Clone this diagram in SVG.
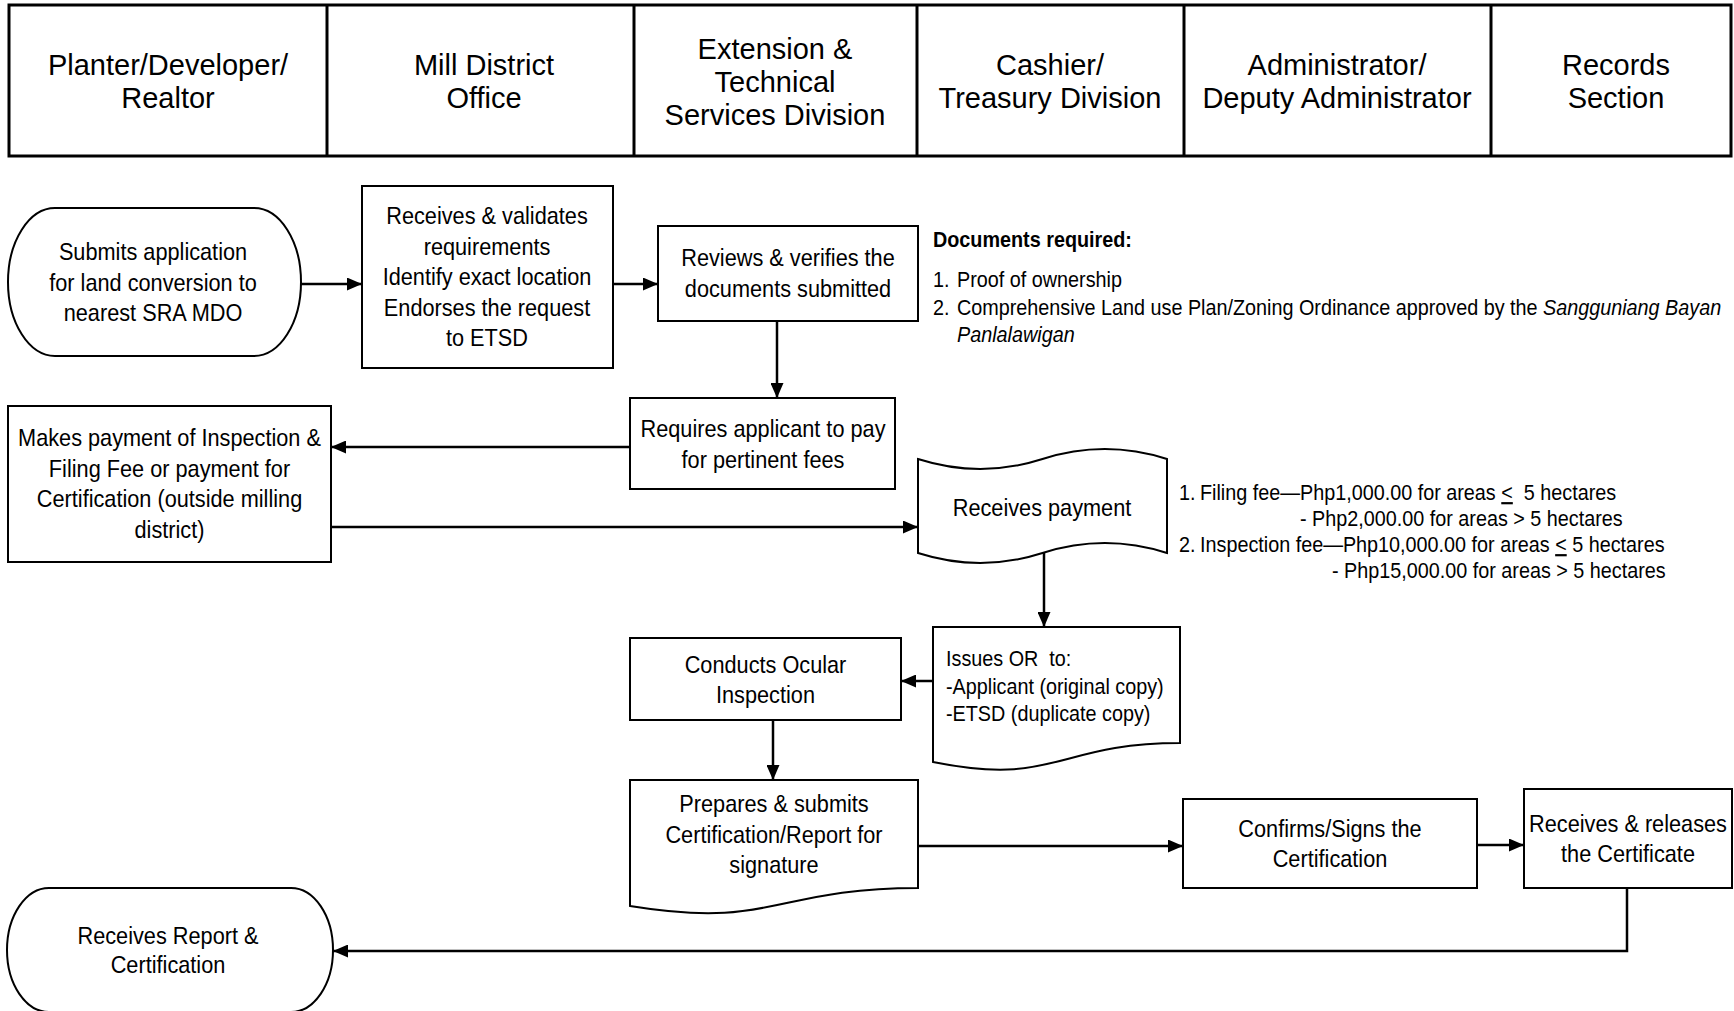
<svg xmlns="http://www.w3.org/2000/svg" width="1734" height="1011" viewBox="0 0 1734 1011">
<style>
.hdr{font-family:"Liberation Sans",Arial,sans-serif;font-size:29px;text-anchor:middle;fill:#000}
.t{font-family:"Liberation Sans",Arial,sans-serif;font-size:24px;text-anchor:middle;fill:#000}
.n{font-family:"Liberation Sans",Arial,sans-serif;font-size:22px;fill:#000}
.b{font-weight:bold}
.i{font-style:italic}
.shape{fill:#fff;stroke:#000;stroke-width:2}
.lane{fill:none;stroke:#000;stroke-width:3}
.conn{fill:none;stroke:#000;stroke-width:2.5;marker-end:url(#ah)}
</style>
<defs>
<marker id="ah" markerUnits="userSpaceOnUse" markerWidth="15" markerHeight="13" refX="15" refY="6.5" orient="auto">
<path d="M0,0 L15,6.5 L0,13 Z" fill="#000"/>
</marker>
</defs>
<rect width="1734" height="1011" fill="#fff"/>

<g id="lanes">
<rect class="lane" x="9" y="5" width="1722" height="151"/>
<line class="lane" x1="327" y1="5" x2="327" y2="156"/>
<line class="lane" x1="634" y1="5" x2="634" y2="156"/>
<line class="lane" x1="917" y1="5" x2="917" y2="156"/>
<line class="lane" x1="1184" y1="5" x2="1184" y2="156"/>
<line class="lane" x1="1491" y1="5" x2="1491" y2="156"/>
<text class="hdr"><tspan x="168" y="74.5">Planter/Developer/</tspan><tspan x="168" y="107.5">Realtor</tspan></text>
<text class="hdr"><tspan x="484" y="74.5">Mill District</tspan><tspan x="484" y="107.5">Office</tspan></text>
<text class="hdr"><tspan x="775" y="58.5">Extension &amp;</tspan><tspan x="775" y="91.5">Technical</tspan><tspan x="775" y="124.5">Services Division</tspan></text>
<text class="hdr"><tspan x="1050" y="74.5">Cashier/</tspan><tspan x="1050" y="107.5">Treasury Division</tspan></text>
<text class="hdr"><tspan x="1337" y="74.5">Administrator/</tspan><tspan x="1337" y="107.5">Deputy Administrator</tspan></text>
<text class="hdr"><tspan x="1616" y="74.5">Records</tspan><tspan x="1616" y="107.5">Section</tspan></text>
</g>

<g id="connectors">
<line class="conn" x1="301" y1="284" x2="362" y2="284"/>
<line class="conn" x1="613" y1="284" x2="658" y2="284"/>
<line class="conn" x1="777" y1="321" x2="777" y2="398"/>
<line class="conn" x1="630" y1="447" x2="331" y2="447"/>
<line class="conn" x1="331" y1="527" x2="918" y2="527"/>
<line class="conn" x1="1044" y1="553" x2="1044" y2="627"/>
<line class="conn" x1="933" y1="681" x2="901" y2="681"/>
<line class="conn" x1="773" y1="720" x2="773" y2="780"/>
<line class="conn" x1="918" y1="846" x2="1183" y2="846"/>
<line class="conn" x1="1477" y1="845" x2="1524" y2="845"/>
<polyline class="conn" points="1627,888 1627,951 333,951"/>
</g>

<g id="n1-submit">
<path class="shape" d="M55,208 H254 A47,74 0 0 1 254,356 H55 A47,74 0 0 1 55,208 Z"/>
<text class="t" transform="translate(153 0) scale(0.905 1)"><tspan x="0" y="260.5">Submits application</tspan><tspan x="0" y="291.5">for land conversion to</tspan><tspan x="0" y="321.5">nearest SRA MDO</tspan></text>
</g>

<g id="n2-validate">
<rect class="shape" x="362" y="186" width="251" height="182"/>
<text class="t" transform="translate(487 0) scale(0.905 1)"><tspan x="0" y="224.5">Receives &amp; validates</tspan><tspan x="0" y="255">requirements</tspan><tspan x="0" y="285.5">Identify exact location</tspan><tspan x="0" y="316">Endorses the request</tspan><tspan x="0" y="346.5">to ETSD</tspan></text>
</g>

<g id="n3-review">
<rect class="shape" x="658" y="226" width="260" height="95"/>
<text class="t" transform="translate(788 0) scale(0.905 1)"><tspan x="0" y="266">Reviews &amp; verifies the</tspan><tspan x="0" y="297">documents submitted</tspan></text>
</g>

<g id="note-documents">
<text class="n b" transform="translate(933 0) scale(0.9 1)" x="0" y="247">Documents required:</text>
<text class="n" transform="translate(933 0) scale(0.9 1)" x="0" y="287">1.</text>
<text class="n" transform="translate(957 0) scale(0.9 1)" x="0" y="287">Proof of ownership</text>
<text class="n" transform="translate(933 0) scale(0.9 1)" x="0" y="315">2.</text>
<text class="n" transform="translate(957 0) scale(0.9 1)" x="0" y="315">Comprehensive Land use Plan/Zoning Ordinance approved by the <tspan class="i">Sangguniang Bayan</tspan></text>
<text class="n i" transform="translate(957 0) scale(0.9 1)" x="0" y="342">Panlalawigan</text>
</g>

<g id="n4-require">
<rect class="shape" x="630" y="398" width="265" height="91"/>
<text class="t" transform="translate(763 0) scale(0.905 1)"><tspan x="0" y="437.5">Requires applicant to pay</tspan><tspan x="0" y="468.5">for pertinent fees</tspan></text>
</g>

<g id="n5-payment">
<rect class="shape" x="8" y="406" width="323" height="156"/>
<text class="t" transform="translate(169.5 0) scale(0.905 1)"><tspan x="0" y="446.5">Makes payment of Inspection &amp;</tspan><tspan x="0" y="477.5">Filing Fee or payment for</tspan><tspan x="0" y="507.5">Certification (outside milling</tspan><tspan x="0" y="538.5">district)</tspan></text>
</g>

<g id="n6-receive-payment">
<path class="shape" d="M918,459 C959.5,472.3 1001,472.3 1042.5,459 C1084,445.7 1125.5,445.7 1167,459 L1167,553 C1125.5,539.7 1084,539.7 1042.5,553 C1001,566.3 959.5,566.3 918,553 Z"/>
<text class="t" transform="translate(1042 0) scale(0.905 1)" x="0" y="516">Receives payment</text>
</g>

<g id="note-fees">
<text class="n" transform="translate(1179 0) scale(0.9 1)" x="0" y="500">1.</text>
<text class="n" transform="translate(1200 0) scale(0.9 1)" x="0" y="500" xml:space="preserve">Filing fee—Php1,000.00 for areas <tspan text-decoration="underline">&lt;</tspan>  5 hectares</text>
<text class="n" transform="translate(1300 0) scale(0.9 1)" x="0" y="526">- Php2,000.00 for areas &gt; 5 hectares</text>
<text class="n" transform="translate(1179 0) scale(0.9 1)" x="0" y="552">2.</text>
<text class="n" transform="translate(1200 0) scale(0.9 1)" x="0" y="552">Inspection fee—Php10,000.00 for areas <tspan text-decoration="underline">&lt;</tspan> 5 hectares</text>
<text class="n" transform="translate(1332 0) scale(0.9 1)" x="0" y="578">- Php15,000.00 for areas &gt; 5 hectares</text>
</g>

<g id="n7-issue-or">
<path class="shape" d="M933,627 H1180 V743 C1056.5,743 1056.5,787 933,762 Z"/>
<text class="n" transform="translate(946 0) scale(0.9 1)" xml:space="preserve"><tspan x="0" y="666">Issues OR  to:</tspan><tspan x="0" y="694">-Applicant (original copy)</tspan><tspan x="0" y="721">-ETSD (duplicate copy)</tspan></text>
</g>

<g id="n8-ocular">
<rect class="shape" x="630" y="638" width="271" height="82"/>
<text class="t" transform="translate(765.5 0) scale(0.905 1)"><tspan x="0" y="673">Conducts Ocular</tspan><tspan x="0" y="703">Inspection</tspan></text>
</g>

<g id="n9-prepare">
<path class="shape" d="M630,780 H918 V888 C774,888 774,929.5 630,906 Z"/>
<text class="t" transform="translate(774 0) scale(0.905 1)"><tspan x="0" y="812.5">Prepares &amp; submits</tspan><tspan x="0" y="843.5">Certification/Report for</tspan><tspan x="0" y="873.5">signature</tspan></text>
</g>

<g id="n10-confirm">
<rect class="shape" x="1183" y="799" width="294" height="89"/>
<text class="t" transform="translate(1330 0) scale(0.905 1)"><tspan x="0" y="837.5">Confirms/Signs the</tspan><tspan x="0" y="867.5">Certification</tspan></text>
</g>

<g id="n11-release">
<rect class="shape" x="1524" y="789" width="208" height="99"/>
<text class="t" transform="translate(1628 0) scale(0.905 1)"><tspan x="0" y="832.5">Receives &amp; releases</tspan><tspan x="0" y="862.5">the Certificate</tspan></text>
</g>

<g id="n12-receive-report">
<path class="shape" d="M49,888 H291 A42,62 0 0 1 291,1012 H49 A42,62 0 0 1 49,888 Z"/>
<text class="t" transform="translate(168 0) scale(0.905 1)"><tspan x="0" y="944.5">Receives Report &amp;</tspan><tspan x="0" y="973">Certification</tspan></text>
</g>
</svg>
